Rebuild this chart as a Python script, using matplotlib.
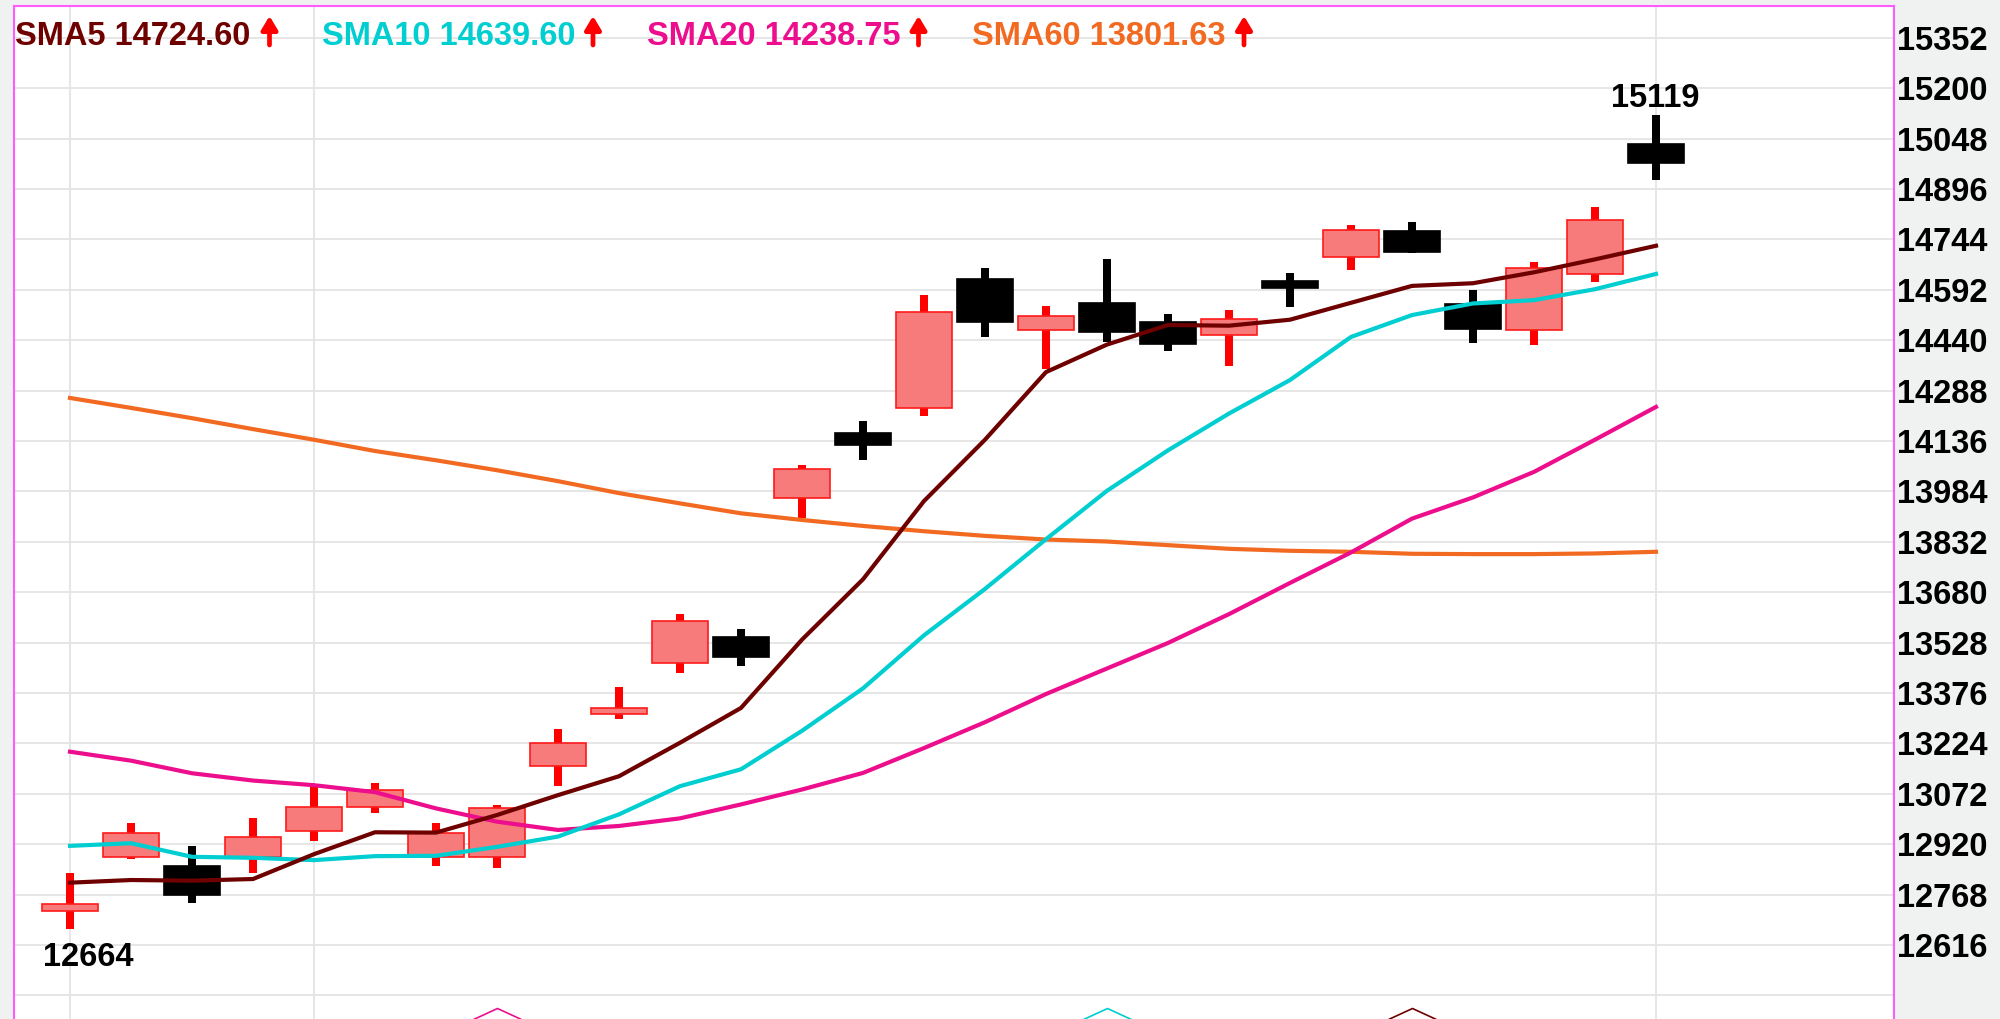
import matplotlib
matplotlib.use('Agg')
import matplotlib.pyplot as plt
from matplotlib import font_manager
from matplotlib.path import Path
import numpy as np

# ---------------- data ----------------
opens = [12719, 12882, 12855, 12882, 12960, 13032, 12882, 12882, 13157, 13313,
         13467, 13544, 13964, 14159, 14236, 14624, 14470, 14553, 14494, 14456,
         14619, 14690, 14771, 14549, 14470, 14640, 15031]
highs = [12832, 12983, 12915, 13000, 13093, 13104, 12983, 13038, 13267, 13393,
         13613, 13568, 14063, 14196, 14576, 14657, 14544, 14684, 14518, 14531,
         14642, 14789, 14798, 14591, 14677, 14841, 15119]
lows = [12664, 12875, 12742, 12834, 12930, 13013, 12854, 12847, 13096, 13298,
        13436, 13457, 13903, 14078, 14211, 14450, 14353, 14436, 14408, 14363,
        14541, 14652, 14702, 14431, 14426, 14616, 14923]
closes = [12740, 12955, 12767, 12942, 13033, 13083, 12955, 13028, 13226, 13331,
          13594, 13486, 14053, 14124, 14525, 14496, 14512, 14464, 14428, 14503,
          14598, 14773, 14706, 14473, 14659, 14802, 14974]

sma5 = [12804, 12812, 12810, 12815, 12890, 12956, 12955, 13008, 13068, 13125,
        13226, 13331, 13537, 13719, 13955, 14140, 14344, 14427, 14486, 14484,
        14502, 14553, 14604, 14612, 14645, 14684, 14725]
sma10 = [12915, 12923, 12882, 12879, 12872, 12884, 12885, 12912, 12943, 13010,
         13095, 13146, 13262, 13390, 13550, 13690, 13840, 13986, 14108, 14219,
         14320, 14450, 14516, 14551, 14561, 14594, 14640]
sma20 = [13199, 13172, 13134, 13112, 13098, 13077, 13028, 12988, 12963, 12975,
         12998, 13040, 13085, 13135, 13210, 13288, 13373, 13450, 13527, 13614,
         13708, 13800, 13902, 13966, 14043, 14140, 14239]
sma60 = [14266, 14236, 14205, 14172, 14140, 14106, 14078, 14048, 14015, 13979,
         13948, 13918, 13898, 13880, 13864, 13850, 13839, 13833, 13822, 13811,
         13805, 13802, 13796, 13795, 13795, 13797, 13802]

legend_names = ['SMA5', 'SMA10', 'SMA20', 'SMA60']
legend_values = ['14724.60', '14639.60', '14238.75', '13801.63']
ytick_values = list(range(12616, 15353, 152))
grid_values = list(range(12464, 15353, 152))
vgrid_idx = [0, 4, 26]
signal_idx = [7, 17, 22]
signal_level = 12426

# ---------------- style ----------------
C_SMA5 = '#6E0000'
C_SMA10 = '#00CED1'
C_SMA20 = '#EC0E8C'
C_SMA60 = '#F26A22'
line_colors = [C_SMA5, C_SMA10, C_SMA20, C_SMA60]
signal_colors = [C_SMA20, C_SMA10, C_SMA5]

names = {f.name for f in font_manager.fontManager.ttflist}
if 'Liberation Sans Narrow' in names:
    FAM = ['Liberation Sans Narrow', 'DejaVu Sans']
    FS = 28.5
elif 'Liberation Sans' in names:
    FAM = ['Liberation Sans', 'DejaVu Sans']
    FS = 23.5
else:
    FAM = ['DejaVu Sans']
    FS = 19

W, H, DPI = 2000, 1019, 100
fig = plt.figure(figsize=(W / DPI, H / DPI), dpi=DPI, facecolor='#F0F1F1')
ax = fig.add_axes([14 / W, 0, (1894 - 14) / W, 1 - 6 / H])
ax.set_facecolor('white')
ax.set_xlim(-0.918, 29.902)
ax.set_ylim(12392.8, 15448.2)

for g in grid_values:
    ax.axhline(g, color='#E4E4E4', lw=1.3, zorder=1)
for i in vgrid_idx:
    ax.axvline(i, color='#E4E4E4', lw=1.3, zorder=1)

x = np.arange(len(opens))
o = np.array(opens)
c = np.array(closes)
h = np.array(highs)
l = np.array(lows)
up = c >= o
wick_col = ['#FF0000' if u else 'black' for u in up]
fill_col = ['#F77B7B' if u else 'black' for u in up]
edge_col = ['#FF1A1A' if u else 'black' for u in up]

ax.bar(x, h - l, bottom=l, width=0.136, color=wick_col, linewidth=0, zorder=2)
ax.bar(x, c - o, bottom=o, width=0.93, color=fill_col, edgecolor=edge_col,
       linewidth=1.2, zorder=3)

LW = 3.0
ax.plot(x, sma60, color=C_SMA60, lw=LW, zorder=4)
ax.plot(x, sma20, color=C_SMA20, lw=LW, zorder=4)
ax.plot(x, sma10, color=C_SMA10, lw=LW, zorder=4)
ax.plot(x, sma5, color=C_SMA5, lw=LW, zorder=5)

# signal markers (open chevrons at the bottom)
chev = Path([(-1, -0.46), (0, 0), (1, -0.46)],
            [Path.MOVETO, Path.LINETO, Path.LINETO])
for i, col in zip(signal_idx, signal_colors):
    ax.plot([i], [signal_level], marker=chev, markersize=34.5,
            markerfacecolor='none', markeredgecolor=col, markeredgewidth=1.2,
            linestyle='none', clip_on=False, zorder=6)

# low / high annotations
imin = int(np.argmin(l))
imax = int(np.argmax(h))
ax.annotate(str(l[imin]), xy=(imin, l[imin]), xytext=(18, -37),
            textcoords='offset pixels', ha='center', va='baseline',
            fontsize=FS, fontweight='bold', family=FAM, color='black', zorder=7)
ax.annotate(str(h[imax]), xy=(imax, h[imax]), xytext=(-1, 8),
            textcoords='offset pixels', ha='center', va='baseline',
            fontsize=FS, fontweight='bold', family=FAM, color='black', zorder=7)

# axes frame
for s in ['left', 'right', 'top']:
    ax.spines[s].set_color('#FF5CFF')
    ax.spines[s].set_linewidth(1.5)
ax.spines['bottom'].set_visible(False)
ax.set_xticks([])
ax.yaxis.tick_right()
ax.set_yticks(ytick_values)
ax.set_yticklabels([str(v) for v in ytick_values], fontsize=FS,
                   fontweight='bold', family=FAM, color='black')
ax.tick_params(axis='y', length=0, pad=2.5)

# legend header
text_x = [15, 322, 647, 972]
arrow_cx = [269.5, 593, 918.5, 1244]
base_y = 1 - 45 / H
for name, val, col, tx, acx in zip(legend_names, legend_values, line_colors,
                                   text_x, arrow_cx):
    fig.text(tx / W, base_y, f'{name} {val}', color=col, fontsize=FS,
             fontweight='bold', family=FAM, ha='left', va='baseline')
    # thick red "up" arrow
    ax.annotate('', xy=(acx, H - 16), xytext=(acx, H - 45),
                xycoords='figure pixels', textcoords='figure pixels',
                arrowprops=dict(arrowstyle='-|>,head_width=0.24,head_length=0.40',
                                mutation_scale=20, lw=3.4, color='#FF0000',
                                shrinkA=0, shrinkB=0),
                annotation_clip=False)

fig.savefig('out.png', dpi=DPI, facecolor=fig.get_facecolor())
